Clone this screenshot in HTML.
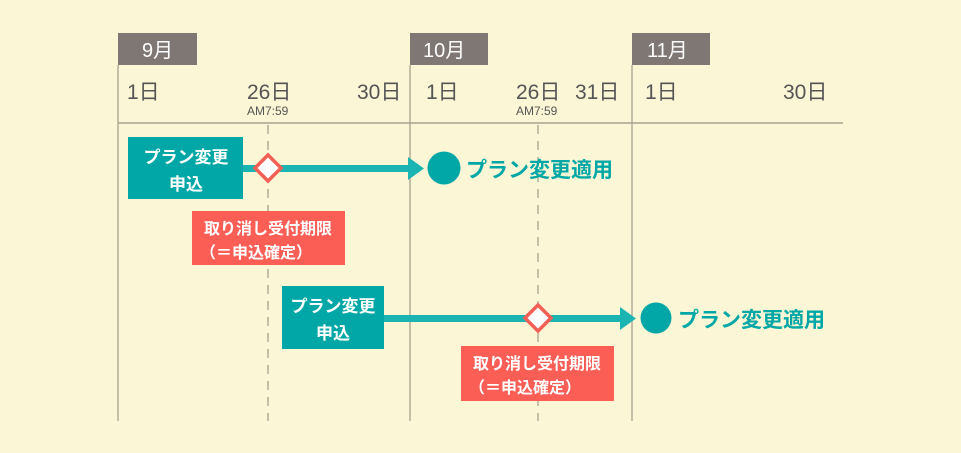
<!DOCTYPE html>
<html><head><meta charset="utf-8"><style>
html,body{margin:0;padding:0;background:#fbf6d5;}
svg{display:block;font-family:"Liberation Sans","Noto Sans CJK JP",sans-serif;}
</style></head><body>
<svg width="961" height="453" viewBox="0 0 961 453" xmlns="http://www.w3.org/2000/svg">
<rect width="961" height="453" fill="#fbf6d5"/>
<rect x="118" y="33" width="79" height="32" fill="#7f7774"/>
<rect x="410" y="33" width="78" height="32" fill="#7f7774"/>
<rect x="632" y="33" width="78" height="32" fill="#7f7774"/>
<g fill="#fff" font-size="20">
<text x="142" y="57">9月</text>
<text x="423" y="57">10月</text>
<text x="647" y="57">11月</text>
</g>
<g stroke="#a9a18f" stroke-width="1.3">
<line x1="118" y1="65" x2="118" y2="421"/>
<line x1="410" y1="65" x2="410" y2="421"/>
<line x1="632" y1="65" x2="632" y2="421"/>
<line x1="118" y1="123" x2="843" y2="123" stroke-width="1.6"/>
</g>
<g stroke="#a9a18f" stroke-width="1.3" stroke-dasharray="9,7">
<line x1="268" y1="125" x2="268" y2="421"/>
<line x1="538" y1="125" x2="538" y2="421"/>
</g>
<g fill="#555" font-size="21">
<text x="127" y="99">1日</text>
<text x="247" y="99">26日</text>
<text x="357" y="99">30日</text>
<text x="426" y="99">1日</text>
<text x="516" y="99">26日</text>
<text x="575" y="99">31日</text>
<text x="645" y="99">1日</text>
<text x="783" y="99">30日</text>
</g>
<g fill="#555" font-size="12">
<text x="247" y="115">AM7:59</text>
<text x="516" y="115">AM7:59</text>
</g>
<rect x="243" y="165" width="167" height="7" fill="#1ab5b3"/>
<polygon points="408,157 424,168.5 408,180" fill="#1ab5b3"/>
<rect x="128" y="137" width="115" height="62" fill="#00a7a6"/>
<g fill="#fff" font-size="17" font-weight="bold" text-anchor="middle">
<text x="186" y="163">プラン変更</text>
<text x="186" y="190">申込</text>
</g>
<polygon points="268,155 281,168 268,181 255,168" fill="#fff" stroke="#f25f55" stroke-width="3.5"/>
<circle cx="444" cy="168" r="16.5" fill="#00a7a6"/>
<text x="466" y="177" fill="#00a7a6" font-size="21" font-weight="bold">プラン変更適用</text>
<rect x="192" y="211" width="153" height="54" fill="#fb5e55"/>
<g fill="#fff" font-size="16" font-weight="bold">
<text x="268" y="234" text-anchor="middle">取り消し受付期限</text>
<text x="200" y="258">（＝申込確定）</text>
</g>
<rect x="384" y="315" width="238" height="7" fill="#1ab5b3"/>
<polygon points="620,307 636,318.5 620,330" fill="#1ab5b3"/>
<rect x="282" y="286" width="102" height="63" fill="#00a7a6"/>
<g fill="#fff" font-size="17" font-weight="bold" text-anchor="middle">
<text x="333" y="312">プラン変更</text>
<text x="333" y="339">申込</text>
</g>
<polygon points="538,305 551,318 538,331 525,318" fill="#fff" stroke="#f25f55" stroke-width="3.5"/>
<circle cx="656" cy="318" r="15.5" fill="#00a7a6"/>
<text x="678" y="327" fill="#00a7a6" font-size="21" font-weight="bold">プラン変更適用</text>
<rect x="461" y="346" width="153" height="55" fill="#fb5e55"/>
<g fill="#fff" font-size="16" font-weight="bold">
<text x="537" y="369" text-anchor="middle">取り消し受付期限</text>
<text x="469" y="393">（＝申込確定）</text>
</g>
</svg>
</body></html>
